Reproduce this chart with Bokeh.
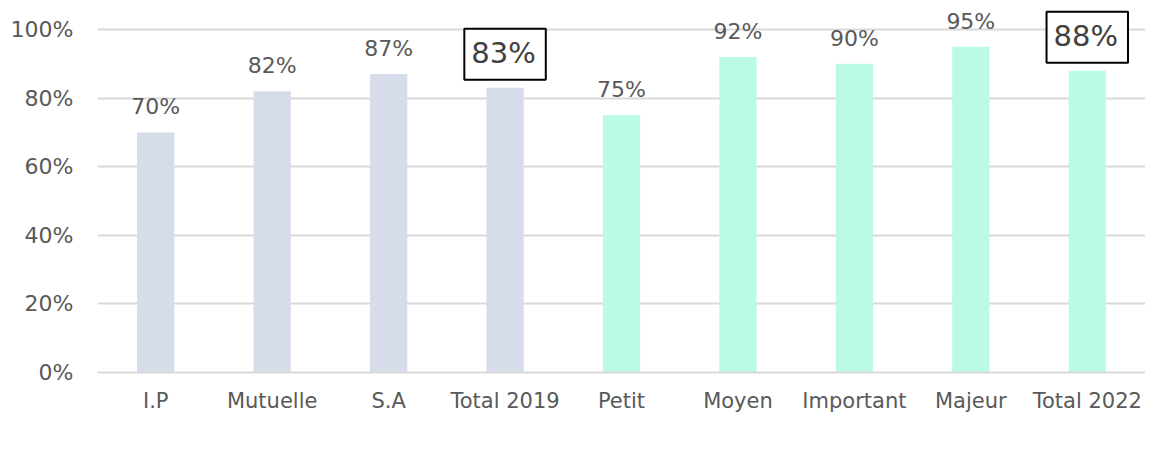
from bokeh.plotting import figure
from bokeh.models import ColumnDataSource, LabelSet, Label, Legend, LegendItem, NumeralTickFormatter, FactorRange
from bokeh.core.properties import value
from bokeh.embed import file_html
from bokeh.resources import INLINE

categories = ["I.P", "Mutuelle", "S.A", "Total 2019", "Petit", "Moyen", "Important", "Majeur", "Total 2022"]
cats_2019 = ["I.P", "Mutuelle", "S.A", "Total 2019"]
vals_2019 = [0.70, 0.82, 0.87, 0.83]
cats_2022 = ["Petit", "Moyen", "Important", "Majeur", "Total 2022"]
vals_2022 = [0.75, 0.92, 0.90, 0.95, 0.88]
series_names = ["Données 2019", "Données 2022"]
colors = ["#D6DCE9", "#BAFAE6"]

FONT = "DejaVu Sans"
TXT = "#595959"

p = figure(x_range=FactorRange(*categories), y_range=(0, 1.0845),
           frame_width=1048, frame_height=372,
           output_backend="svg", toolbar_location=None,
           min_border_left=97, min_border_right=0, min_border_top=0, min_border_bottom=0)
p.outline_line_color = None
p.background_fill_color = "white"

s19 = ColumnDataSource(dict(x=cats_2019, y=vals_2019))
s22 = ColumnDataSource(dict(x=cats_2022, y=vals_2022))

r1 = p.vbar(x="x", top="y", width=0.32, source=s19, color=colors[0], line_color=None)
r2 = p.vbar(x="x", top="y", width=0.32, source=s22, color=colors[1], line_color=None)

all_c = cats_2019 + cats_2022
all_v = vals_2019 + vals_2022
reg_x = [c for c in all_c if not c.startswith("Total")]
reg_y = [v for c, v in zip(all_c, all_v) if not c.startswith("Total")]
sreg = ColumnDataSource(dict(x=reg_x, y=reg_y, t=[f"{round(v*100)}%" for v in reg_y]))
p.add_layout(LabelSet(x="x", y="y", text="t", source=sreg, text_align="center",
                      text_baseline="alphabetic", y_offset=18, text_font=value(FONT),
                      text_font_size=value("22px"), text_color=value(TXT)))

for c, v in zip(all_c, all_v):
    if c.startswith("Total"):
        xpos = categories.index(c) + 0.5  # synthetic coordinate of the factor centre
        p.add_layout(Label(x=xpos, y=v, text=f"{round(v*100)}%", text_align="center",
                           text_baseline="bottom", y_offset=8, text_font=FONT,
                           text_font_size="29px", text_color="#404040",
                           border_line_color="black", border_line_width=2,
                           background_fill_color="white", padding=(7, 10, 7, 10)))

p.yaxis.formatter = NumeralTickFormatter(format="0%")
p.yaxis.ticker = [0, 0.2, 0.4, 0.6, 0.8, 1.0]
p.yaxis.axis_line_color = None
p.yaxis.major_tick_line_color = None
p.yaxis.minor_tick_line_color = None
p.yaxis.major_label_standoff = 18
p.yaxis.major_label_text_font = FONT
p.yaxis.major_label_text_font_size = "22px"
p.yaxis.major_label_text_color = TXT

p.xaxis.axis_line_color = "#D9D9D9"
p.xaxis.axis_line_width = 2
p.xaxis.major_tick_line_color = None
p.xaxis.minor_tick_line_color = None
p.xaxis.major_label_standoff = 10
p.xaxis.major_label_text_font = FONT
p.xaxis.major_label_text_font_size = "21px"
p.xaxis.major_label_text_color = TXT

p.xgrid.grid_line_color = None
p.ygrid.grid_line_color = "#D9D9D9"
p.ygrid.grid_line_width = 2

legend = Legend(items=[LegendItem(label=series_names[0], renderers=[r1]),
                       LegendItem(label=series_names[1], renderers=[r2])],
                orientation="horizontal", location="center",
                label_text_font=FONT, label_text_font_size="21px", label_text_color=TXT,
                glyph_width=12, glyph_height=12, spacing=60, label_standoff=4,
                padding=0, margin=0, label_height=20,
                background_fill_alpha=0, border_line_color=None)
p.add_layout(legend, "below")

open("out.html", "w").write(file_html(p, INLINE))
